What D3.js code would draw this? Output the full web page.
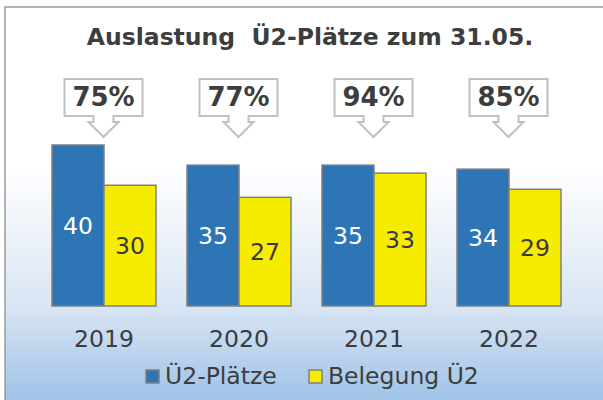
<!DOCTYPE html>
<html lang="de">
<head>
    <meta charset="utf-8">
    <title>Auslastung Ü2-Plätze</title>
    <style>
        html, body { margin: 0; padding: 0; background: #fff; }
        svg { display: block; font-family: "DejaVu Sans", Verdana, sans-serif; }
    </style>
    <script src="https://d3js.org/d3.v7.min.js"></script>
</head>
<body>
<svg></svg>
<script>
    const width = 603;
    const height = 400;

    // data
    const years = ['2019', '2020', '2021', '2022'];
    const series = ['Ü2-Plätze', 'Belegung Ü2'];
    const plaetze = [40, 35, 35, 34];
    const belegung = [30, 27, 33, 29];
    const auslastung = ['75%', '77%', '94%', '85%'];
    const title = 'Auslastung  Ü2-Plätze zum 31.05.';

    const colors = ['#2e75b6', '#f5ec00'];
    const labelColors = ['#ffffff', '#3a3a3a'];
    const textColor = '#3d3d3d';

    const svg = d3.select('svg').attr('width', width).attr('height', height);

    // background with gradient
    const defs = svg.append('defs');
    const grad = defs.append('linearGradient')
        .attr('id', 'bg')
        .attr('x1', 0).attr('y1', 0).attr('x2', 0).attr('y2', 1);
    grad.append('stop').attr('offset', '0%').attr('stop-color', '#ffffff');
    grad.append('stop').attr('offset', '40%').attr('stop-color', '#ffffff');
    grad.append('stop').attr('offset', '75%').attr('stop-color', '#dae6f4');
    grad.append('stop').attr('offset', '100%').attr('stop-color', '#9ec2e7');

    svg.append('rect')
        .attr('x', 5).attr('y', 7)
        .attr('width', 640).attr('height', 395)
        .attr('fill', 'url(#bg)')
        .attr('stroke', '#9a9a9a')
        .attr('stroke-width', 1.5);

    svg.append('text')
        .attr('x', 310).attr('y', 45)
        .attr('text-anchor', 'middle')
        .attr('font-size', 23.5)
        .attr('font-weight', 'bold')
        .attr('fill', textColor)
        .style('white-space', 'pre')
        .text(title);

    const x = d3.scaleBand()
        .domain(years)
        .range([36.5, 576.5])
        .paddingInner(31 / 135)
        .paddingOuter(31 / 270);

    const xInner = d3.scaleBand()
        .domain(series)
        .range([0, x.bandwidth()]);

    const y = d3.scaleLinear()
        .domain([0, 40])
        .range([306, 145]);

    const rows = years.map((yr, i) => ({
        year: yr,
        values: [plaetze[i], belegung[i]],
        pct: auslastung[i]
    }));

    const groups = svg.append('g').selectAll('g')
        .data(rows)
        .enter().append('g')
        .attr('transform', d => `translate(${x(d.year)},0)`);

    groups.selectAll('rect')
        .data(d => d.values.map((v, j) => ({ s: series[j], v: v, j: j })))
        .enter().append('rect')
        .attr('x', d => xInner(d.s))
        .attr('y', d => y(d.v))
        .attr('width', xInner.bandwidth())
        .attr('height', d => y(0) - y(d.v))
        .attr('fill', d => colors[d.j])
        .attr('stroke', '#808080')
        .attr('stroke-width', 1.5);

    groups.selectAll('text.val')
        .data(d => d.values.map((v, j) => ({ s: series[j], v: v, j: j })))
        .enter().append('text')
        .attr('class', 'val')
        .attr('x', d => xInner(d.s) + xInner.bandwidth() / 2)
        .attr('y', d => (y(d.v) + y(0)) / 2)
        .attr('dy', '0.36em')
        .attr('text-anchor', 'middle')
        .attr('font-size', 23.5)
        .attr('fill', d => labelColors[d.j])
        .text(d => d.v);

    // callouts with percentages
    const callout = svg.append('g').selectAll('g')
        .data(rows)
        .enter().append('g')
        .attr('transform', d => `translate(${x(d.year) + x.bandwidth() / 2 - 0.5},0)`);

    const boxW = 39, boxTop = 79, boxBot = 116, neckW = 10, wingW = 15, wingY = 122, tipY = 137;
    callout.append('path')
        .attr('d', `M${-boxW},${boxTop}H${boxW}V${boxBot}H${neckW}V${wingY}H${wingW}L0,${tipY}L${-wingW},${wingY}H${-neckW}V${boxBot}H${-boxW}Z`)
        .attr('fill', '#ffffff')
        .attr('stroke', '#c0c0c0')
        .attr('stroke-width', 2);

    callout.append('text')
        .attr('x', 0).attr('y', 106)
        .attr('text-anchor', 'middle')
        .attr('font-size', 26)
        .attr('font-weight', 'bold')
        .attr('fill', textColor)
        .text(d => d.pct);

    // x axis labels
    svg.append('g').selectAll('text')
        .data(years)
        .enter().append('text')
        .attr('x', d => x(d) + x.bandwidth() / 2)
        .attr('y', 347)
        .attr('text-anchor', 'middle')
        .attr('font-size', 23.5)
        .attr('fill', textColor)
        .text(d => d);

    // legend
    const legendX = [146, 309];
    const legend = svg.append('g').selectAll('g')
        .data(series)
        .enter().append('g')
        .attr('transform', (d, i) => `translate(${legendX[i]},370)`);

    legend.append('rect')
        .attr('width', 13).attr('height', 13)
        .attr('fill', (d, i) => colors[i])
        .attr('stroke', '#808080')
        .attr('stroke-width', 1.5);

    legend.append('text')
        .attr('x', 19).attr('y', 14)
        .attr('font-size', 23.5)
        .attr('fill', textColor)
        .text(d => d);
</script>
</body>
</html>
